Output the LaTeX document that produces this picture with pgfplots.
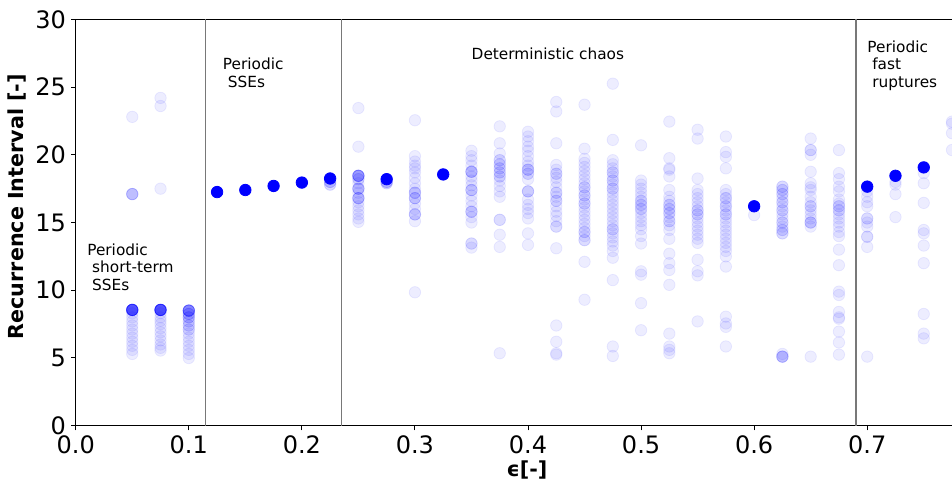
\documentclass[border=0pt]{standalone}
\usepackage{fontspec}
\setmainfont{DejaVu Sans}
\usepackage{pgfplots}
\pgfplotsset{compat=1.18}
\usepackage{pgfplotstable}

% light (semi-transparent) recurrence intervals; repeated rows overlap and darken
\pgfplotstableread{
x y
0.05 22.8
0.05 17.1
0.05 17.1
0.05 17.1
0.05 17.1
0.05 8.55
0.05 8.55
0.05 8.55
0.05 8.55
0.05 8.55
0.05 8.55
0.05 8.55
0.05 8.55
0.05 8.55
0.05 8.55
0.05 8.55
0.05 8.55
0.05 8.55
0.05 8.55
0.05 8.55
0.05 8.55
0.05 8.3
0.05 8.0
0.05 7.7
0.05 7.4
0.05 7.1
0.05 6.8
0.05 6.5
0.05 6.2
0.05 5.9
0.05 5.6
0.05 5.3
0.075 24.2
0.075 23.6
0.075 17.5
0.075 8.55
0.075 8.55
0.075 8.55
0.075 8.55
0.075 8.55
0.075 8.55
0.075 8.55
0.075 8.55
0.075 8.55
0.075 8.55
0.075 8.55
0.075 8.55
0.075 8.55
0.075 8.55
0.075 8.55
0.075 8.55
0.075 8.3
0.075 8.0
0.075 7.75
0.075 7.5
0.075 7.2
0.075 6.9
0.075 6.6
0.075 6.3
0.075 6.0
0.075 5.75
0.075 5.55
0.1 8.5
0.1 8.5
0.1 8.5
0.1 8.5
0.1 8.5
0.1 8.5
0.1 8.5
0.1 8.5
0.1 8.5
0.1 8.25
0.1 8.25
0.1 8.25
0.1 8.0
0.1 8.0
0.1 8.0
0.1 7.7
0.1 7.7
0.1 7.4
0.1 7.4
0.1 7.1
0.1 7.1
0.1 6.8
0.1 6.5
0.1 6.2
0.1 5.9
0.1 5.6
0.1 5.3
0.1 5.0
0.225 18.0
0.225 18.0
0.225 18.0
0.225 17.8
0.225 17.8
0.25 23.45
0.25 20.6
0.25 18.45
0.25 18.45
0.25 18.45
0.25 18.45
0.25 18.45
0.25 18.45
0.25 18.45
0.25 18.2
0.25 18.2
0.25 17.9
0.25 17.5
0.25 17.5
0.25 17.5
0.25 17.5
0.25 17.2
0.25 16.8
0.25 16.8
0.25 16.8
0.25 16.8
0.25 16.5
0.25 16.2
0.25 15.9
0.25 15.6
0.25 15.3
0.25 15.05
0.275 18.0
0.275 18.0
0.275 18.0
0.275 17.9
0.275 17.9
0.3 22.55
0.3 19.9
0.3 19.5
0.3 19.2
0.3 19.0
0.3 18.7
0.3 18.3
0.3 17.9
0.3 17.5
0.3 17.2
0.3 17.2
0.3 17.2
0.3 16.8
0.3 16.8
0.3 16.8
0.3 16.4
0.3 16.0
0.3 15.6
0.3 15.6
0.3 15.6
0.3 15.1
0.3 9.85
0.35 20.3
0.35 19.9
0.35 19.6
0.35 19.2
0.35 18.75
0.35 18.75
0.35 18.75
0.35 18.75
0.35 18.4
0.35 18.1
0.35 17.75
0.35 17.4
0.35 17.4
0.35 17.4
0.35 17.0
0.35 16.6
0.35 16.2
0.35 15.8
0.35 15.8
0.35 15.8
0.35 15.4
0.35 15.0
0.35 13.45
0.35 13.45
0.35 13.15
0.375 22.1
0.375 20.85
0.375 20.1
0.375 19.6
0.375 19.6
0.375 19.3
0.375 19.3
0.375 19.0
0.375 19.0
0.375 18.7
0.375 18.7
0.375 18.4
0.375 18.4
0.375 18.1
0.375 17.7
0.375 17.3
0.375 16.9
0.375 15.2
0.375 15.2
0.375 14.1
0.375 13.2
0.375 5.35
0.4 21.7
0.4 21.35
0.4 21.0
0.4 20.6
0.4 20.3
0.4 19.9
0.4 19.5
0.4 19.2
0.4 18.9
0.4 18.9
0.4 18.9
0.4 18.6
0.4 18.6
0.4 18.2
0.4 17.3
0.4 17.3
0.4 17.3
0.4 16.7
0.4 16.3
0.4 16.0
0.4 15.7
0.4 15.3
0.4 14.2
0.4 13.35
0.425 23.9
0.425 23.2
0.425 20.85
0.425 19.25
0.425 18.9
0.425 18.6
0.425 18.6
0.425 18.3
0.425 18.0
0.425 17.6
0.425 17.2
0.425 17.2
0.425 16.9
0.425 16.6
0.425 16.6
0.425 16.2
0.425 15.8
0.425 15.5
0.425 15.1
0.425 14.7
0.425 14.7
0.425 13.1
0.425 7.4
0.425 6.2
0.425 5.35
0.425 5.25
0.45 23.7
0.45 20.45
0.45 19.7
0.45 19.4
0.45 19.1
0.45 18.8
0.45 18.5
0.45 18.2
0.45 17.9
0.45 17.6
0.45 17.6
0.45 17.3
0.45 17.0
0.45 17.0
0.45 16.7
0.45 16.4
0.45 16.4
0.45 16.1
0.45 15.8
0.45 15.5
0.45 15.2
0.45 14.9
0.45 14.6
0.45 14.3
0.45 14.3
0.45 14.0
0.45 13.7
0.45 13.7
0.45 12.1
0.45 9.3
0.475 25.25
0.475 21.1
0.475 19.6
0.475 19.3
0.475 19.0
0.475 18.7
0.475 18.7
0.475 18.4
0.475 18.1
0.475 18.1
0.475 17.8
0.475 17.5
0.475 17.5
0.475 17.2
0.475 16.9
0.475 16.6
0.475 16.3
0.475 16.0
0.475 15.7
0.475 15.4
0.475 15.1
0.475 14.8
0.475 14.5
0.475 14.5
0.475 14.2
0.475 13.9
0.475 13.6
0.475 13.3
0.475 12.9
0.475 12.4
0.475 10.75
0.475 5.85
0.475 5.15
0.5 20.7
0.5 18.1
0.5 17.8
0.5 17.5
0.5 17.2
0.5 16.9
0.5 16.6
0.5 16.6
0.5 16.3
0.5 16.3
0.5 16.0
0.5 16.0
0.5 15.7
0.5 15.4
0.5 15.1
0.5 14.8
0.5 14.5
0.5 14.0
0.5 13.45
0.5 11.4
0.5 11.15
0.5 9.05
0.5 7.05
0.525 22.45
0.525 19.75
0.525 19.0
0.525 18.9
0.525 18.4
0.525 17.4
0.525 16.9
0.525 16.6
0.525 16.3
0.525 16.3
0.525 16.0
0.525 16.0
0.525 15.7
0.525 15.7
0.525 15.4
0.525 15.1
0.525 15.1
0.525 14.8
0.525 14.45
0.525 13.8
0.525 12.7
0.525 12.0
0.525 11.5
0.525 10.4
0.525 6.8
0.525 5.85
0.525 5.6
0.525 5.35
0.55 21.85
0.55 21.2
0.55 18.25
0.55 17.4
0.55 17.1
0.55 16.8
0.55 16.5
0.55 16.2
0.55 15.9
0.55 15.9
0.55 15.6
0.55 15.6
0.55 15.3
0.55 15.0
0.55 14.7
0.55 14.4
0.55 14.1
0.55 13.8
0.55 13.5
0.55 12.25
0.55 11.4
0.55 11.1
0.55 7.7
0.575 21.35
0.575 20.2
0.575 19.85
0.575 19.0
0.575 17.4
0.575 17.1
0.575 16.8
0.575 16.8
0.575 16.5
0.575 16.2
0.575 16.2
0.575 15.9
0.575 15.6
0.575 15.6
0.575 15.3
0.575 15.0
0.575 14.7
0.575 14.4
0.575 14.1
0.575 13.8
0.575 13.5
0.575 13.2
0.575 12.9
0.575 12.5
0.575 11.75
0.575 8.05
0.575 7.55
0.575 7.3
0.575 5.85
0.6 15.55
0.625 17.65
0.625 17.65
0.625 17.4
0.625 17.4
0.625 17.1
0.625 17.1
0.625 16.8
0.625 16.5
0.625 16.5
0.625 16.2
0.625 15.9
0.625 15.9
0.625 15.6
0.625 15.3
0.625 15.0
0.625 15.0
0.625 14.7
0.625 14.45
0.625 14.45
0.625 14.2
0.625 14.2
0.625 5.1
0.625 5.1
0.625 5.1
0.625 5.1
0.625 5.3
0.65 21.2
0.65 20.35
0.65 20.35
0.65 20.0
0.65 18.75
0.65 17.9
0.65 17.6
0.65 17.4
0.65 16.9
0.65 16.5
0.65 16.2
0.65 16.2
0.65 15.9
0.65 15.6
0.65 15.3
0.65 15.0
0.65 15.0
0.65 15.0
0.65 14.7
0.65 5.1
0.675 20.35
0.675 18.65
0.675 18.2
0.675 17.65
0.675 17.3
0.675 16.7
0.675 16.4
0.675 16.2
0.675 16.2
0.675 15.9
0.675 15.9
0.675 15.6
0.675 15.3
0.675 15.0
0.675 14.7
0.675 14.3
0.675 14.0
0.675 13.0
0.675 11.85
0.675 9.9
0.675 9.65
0.675 8.4
0.675 8.0
0.675 7.9
0.675 6.95
0.675 6.15
0.675 5.25
0.7 17.3
0.7 16.9
0.7 16.5
0.7 16.2
0.7 15.3
0.7 15.3
0.7 15.0
0.7 14.7
0.7 13.95
0.7 13.95
0.7 13.2
0.7 5.1
0.725 18.0
0.725 17.8
0.725 17.1
0.725 15.4
0.75 18.65
0.75 17.9
0.75 16.45
0.75 14.45
0.75 14.2
0.75 13.3
0.75 12.0
0.75 8.25
0.75 6.8
0.75 6.45
0.775 22.45
0.775 22.3
0.775 21.6
0.775 20.35
}\lightdata

% fully saturated points (many coincident events)
\pgfplotstableread{
x y
0.125 17.25
0.15 17.4
0.175 17.7
0.2 17.95
0.225 18.25
0.275 18.2
0.325 18.55
0.6 16.2
0.7 17.65
0.725 18.45
0.75 19.07
}\soliddata

\definecolor{regline}{RGB}{120,120,120}

\begin{document}
\begin{tikzpicture}
\begin{axis}[
  name=main,
  scale only axis,
  width=657.2pt, height=304.8pt,
  xmin=0, xmax=0.775, ymin=0, ymax=30,
  axis x line*=box, axis y line*=left,
  xtick={0,0.1,0.2,0.3,0.4,0.5,0.6,0.7},
  xticklabels={0.0,0.1,0.2,0.3,0.4,0.5,0.6,0.7},
  ytick={0,5,10,15,20,25,30},
  yticklabels={0,5,10,15,20,25,30},
  tick align=outside,
  xtick pos=left, ytick pos=left,
  major tick length=3.5pt,
  tick style={black, line width=0.75pt},
  axis line style={black, line width=0.75pt},
  tick label style={font=\fontsize{18}{21}\selectfont, inner sep=0pt},
  xticklabel style={yshift=-3.7pt},
  yticklabel style={xshift=-3.7pt},
  xlabel={ϵ[-]},
  ylabel={Recurrence Interval [-]},
  every axis x label/.style={at={(axis description cs:0.515,-0.126)}, anchor=base, font=\bfseries\fontsize{15.5}{18}\selectfont},
  every axis y label/.style={at={(axis description cs:-0.0598,0.539)}, rotate=90, anchor=base, font=\bfseries\fontsize{15.5}{18}\selectfont},
  clip=true,
]
\addplot[regline, line width=1.1pt] coordinates {(0.115,0) (0.115,30)};
\addplot[regline, line width=1.1pt] coordinates {(0.235,0) (0.235,30)};
\addplot[regline, line width=1.1pt] coordinates {(0.69,0) (0.69,30)};

\addplot[only marks, mark=*, mark size=4.3pt,
  mark options={draw=blue, fill=blue, opacity=0.07, line width=0.6pt}]
  table {\lightdata};
\addplot[only marks, mark=*, mark size=4.3pt,
  mark options={draw=blue, fill=blue, line width=0.6pt}]
  table {\soliddata};

\begin{scope}[every node/.style={font=\fontsize{11.5}{14}\selectfont, inner sep=0pt, anchor=base west}]
\node at (axis cs:0.01,12.58) {Periodic};
\node at (axis cs:0.01,11.29) {\hspace*{0.318em}short-term};
\node at (axis cs:0.01,10) {\hspace*{0.318em}SSEs};
\node at (axis cs:0.13,26.29) {Periodic};
\node at (axis cs:0.13,25) {\hspace*{0.318em}SSEs};
\node at (axis cs:0.35,27) {Deterministic chaos};
\node at (axis cs:0.7,27.58) {Periodic};
\node at (axis cs:0.7,26.29) {\hspace*{0.318em}fast};
\node at (axis cs:0.7,25) {\hspace*{0.318em}ruptures};
\end{scope}
\end{axis}
\pgfresetboundingbox
\path[use as bounding box] ([xshift=-56.8pt,yshift=-44.5pt]main.south west) rectangle ([yshift=14.5pt]main.north east);
\end{tikzpicture}
\end{document}
